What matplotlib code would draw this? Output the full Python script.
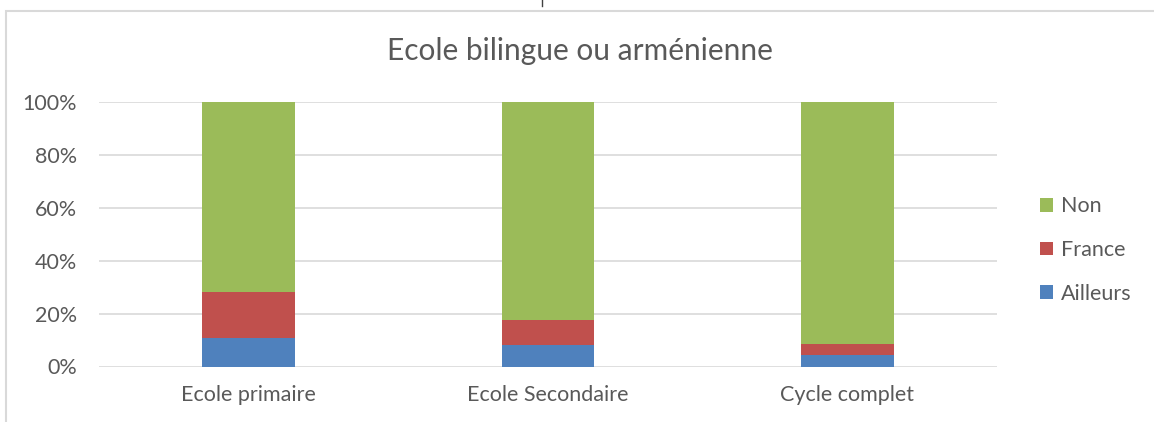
import numpy as np
import matplotlib
matplotlib.use("Agg")
import matplotlib.pyplot as plt
from matplotlib.patches import Patch, Rectangle
from matplotlib.lines import Line2D
from matplotlib.ticker import PercentFormatter

plt.rcParams['font.family'] = ['Lato', 'DejaVu Sans']

# données (parts en %)
categories = ["Ecole primaire", "Ecole Secondaire", "Cycle complet"]
ailleurs = [10.8, 8.0, 4.4]
france = [17.2, 9.6, 4.2]
non = [72.0, 82.4, 91.4]

series = [("Ailleurs", ailleurs, "#4f81bd"),
          ("France", france, "#c0504d"),
          ("Non", non, "#9bbb59")]

W, H = 1154, 422
fig = plt.figure(figsize=(W / 100, H / 100), dpi=100)
ax = fig.add_axes([99 / W, 1 - 366.5 / H, 898 / W, 264.5 / H])

x = np.arange(len(categories))
bottom = np.zeros(len(categories))
for nom, vals, coul in series:
    vals = np.array(vals) / 100
    ax.bar(x, vals, width=0.31, bottom=bottom, color=coul, label=nom, zorder=3)
    bottom += vals

ax.set_xlim(-0.5, 2.5)
ax.set_ylim(0, 1)
ax.set_yticks(np.arange(0, 1.01, 0.2))
ax.yaxis.set_major_formatter(PercentFormatter(1.0, decimals=0))
ax.set_xticks(x)
ax.set_xticklabels(categories)
ax.tick_params(axis='both', length=0, labelsize=15.5, colors='#595959')
ax.tick_params(axis='y', pad=16)
ax.tick_params(axis='x', pad=13)
ax.grid(axis='y', color='#d9d9d9', linewidth=1.2, zorder=0)
for s in ax.spines.values():
    s.set_visible(False)

fig.text(580 / W, 1 - 51 / H, "Ecole bilingue ou arménienne", ha='center', va='center',
         fontsize=21.5, color='#595959')

# légende dans l'ordre inverse
handles = [Patch(facecolor=c, label=n) for n, _, c in series[::-1]]
fig.legend(handles=handles, loc='center left', bbox_to_anchor=(1021 / W, 1 - 250 / H),
           frameon=False, fontsize=15.5, labelcolor='#595959', handlelength=0.6,
           handleheight=0.6, handletextpad=0.35, labelspacing=1.1)

# cadre du graphique
fig.add_artist(Rectangle((5.5 / W, -0.05), 1.2, 1 - 10.5 / H + 0.05, transform=fig.transFigure,
                         fill=False, edgecolor='#d9d9d9', linewidth=1.5))
fig.add_artist(Line2D([542 / W, 542 / W], [1, 1 - 6 / H], transform=fig.transFigure,
                      color='#404040', linewidth=1))

fig.savefig("out.png", dpi=100)
